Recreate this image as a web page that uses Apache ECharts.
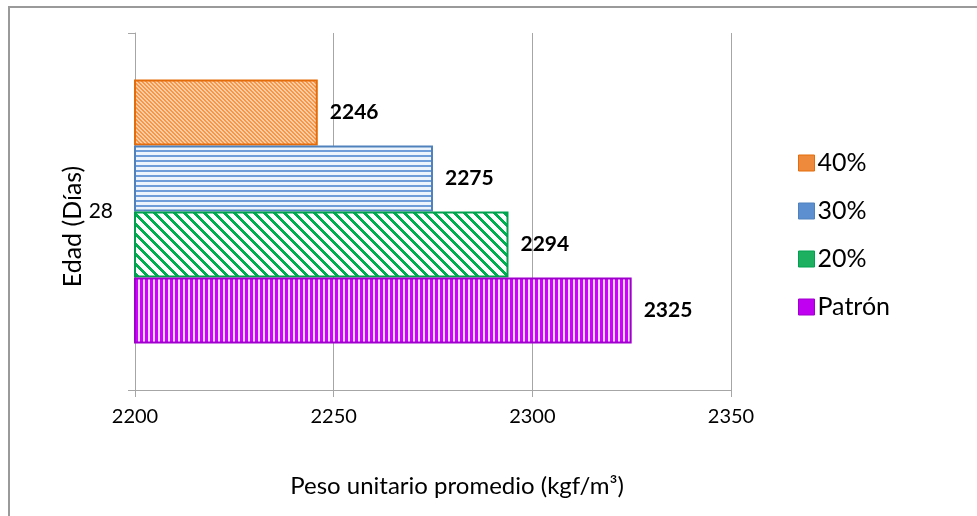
<!DOCTYPE html>
<html>
<head>
<meta charset="utf-8">
<script src="https://cdn.jsdelivr.net/npm/echarts@6/dist/echarts.min.js"></script>
<style>
  html, body { margin: 0; padding: 0; background: #fff; }
  #chart { width: 977px; height: 516px; }
</style>
</head>
<body>
<div id="chart"></div>
<script>
// Age category and average unit weight per mix
const categories = ['28'];
const seriesNames = ['40%', '30%', '20%', 'Patrón'];
const valuesPatron = [2325];
const values20 = [2294];
const values30 = [2275];
const values40 = [2246];
const legendOrder = ['40%', '30%', '20%', 'Patrón'];
const xTicks = { min: 2200, max: 2350, step: 50 };

// Build a repeating fill tile from a per-pixel rule
function makeTile(w, h, fg, bg, test) {
  const c = document.createElement('canvas');
  c.width = w; c.height = h;
  const ctx = c.getContext('2d');
  ctx.fillStyle = bg;
  ctx.fillRect(0, 0, w, h);
  ctx.fillStyle = fg;
  for (let y = 0; y < h; y++) {
    for (let x = 0; x < w; x++) {
      if (test(x, y)) ctx.fillRect(x, y, 1, 1);
    }
  }
  return { image: c, repeat: 'repeat' };
}

const fillOrange = makeTile(4, 4, '#F79646', '#FCCDA6', (x, y) => ((x - y + 8) % 4) < 2);
const fillBlue = makeTile(4, 5, '#6F9DD9', '#EEF4FB', (x, y) => y < 2);
const fillGreen = makeTile(10, 10, '#00B050', '#FFFFFF', (x, y) => ((x - y + 20) % 10) < 4);
const fillMagenta = makeTile(5, 4, '#D000FF', '#F8DDFF', (x, y) => x < 3);

const styles = {
  'Patrón': { fill: fillMagenta, border: '#A000CC', legend: '#C000F0' },
  '20%': { fill: fillGreen, border: '#00A050', legend: '#1DB060' },
  '30%': { fill: fillBlue, border: '#4F81BD', legend: '#5B8FD0' },
  '40%': { fill: fillOrange, border: '#E46C0A', legend: '#EE8A3C' }
};
const dataByName = { 'Patrón': valuesPatron, '20%': values20, '30%': values30, '40%': values40 };

const font = 'Lato, "Open Sans", sans-serif';

const chart = echarts.init(document.getElementById('chart'), null, { renderer: 'canvas' });

chart.setOption({
  backgroundColor: '#ffffff',
  animation: false,
  textStyle: { fontFamily: font },
  graphic: [{
    type: 'rect',
    shape: { x: 9, y: 7, width: 1000, height: 600 },
    style: { fill: 'none', stroke: '#9a9a9a', lineWidth: 2 },
    silent: true
  }],
  grid: { left: 135, right: 246, top: 33, bottom: 126, containLabel: false },
  legend: {
    orient: 'vertical',
    left: 793,
    top: 144,
    icon: 'rect',
    itemWidth: 16,
    itemHeight: 16,
    itemGap: 20,
    data: legendOrder.map(name => ({
      name: name,
      itemStyle: { color: styles[name].legend, borderColor: styles[name].border, borderWidth: 1 }
    })),
    textStyle: { fontSize: 25, color: '#000', fontFamily: font, lineHeight: 28, padding: [0, 0, 0, -2] }
  },
  xAxis: {
    type: 'value',
    min: xTicks.min,
    max: xTicks.max,
    interval: xTicks.step,
    name: 'Peso unitario promedio (kgf/m³)',
    nameLocation: 'middle',
    nameGap: 84,
    nameMoveOverlap: false,
    nameTextStyle: { fontSize: 24, color: '#000', fontFamily: font, padding: [0, 0, 0, 48] },
    axisLine: { show: true, lineStyle: { color: '#A6A6A6', width: 1 } },
    axisTick: { show: true, length: 7, lineStyle: { color: '#A6A6A6' } },
    axisLabel: { fontSize: 20, color: '#000', margin: 17, fontFamily: font, formatter: v => String(v) },
    splitLine: { show: true, lineStyle: { color: '#A6A6A6', width: 1 } }
  },
  yAxis: {
    type: 'category',
    data: categories,
    name: 'Edad (Días)',
    nameLocation: 'middle',
    nameGap: 50,
    nameMoveOverlap: false,
    nameTextStyle: { fontSize: 25, color: '#000', fontFamily: font, padding: [0, 30, 0, 0] },
    axisLine: { show: true, lineStyle: { color: '#A6A6A6', width: 1 } },
    axisTick: { show: true, length: 7, lineStyle: { color: '#A6A6A6' } },
    axisLabel: { fontSize: 21, color: '#000', margin: 22, fontFamily: font }
  },
  series: seriesNames.map(name => ({
    name: name,
    type: 'bar',
    data: dataByName[name],
    barGap: '0%',
    barCategoryGap: '26%',
    itemStyle: {
      color: styles[name].fill,
      borderColor: styles[name].border,
      borderWidth: 2
    },
    label: {
      show: true,
      position: 'right',
      distance: 12,
      fontSize: 21,
      fontWeight: 'bold',
      color: '#000',
      fontFamily: font
    }
  }))
});
</script>
</body>
</html>
